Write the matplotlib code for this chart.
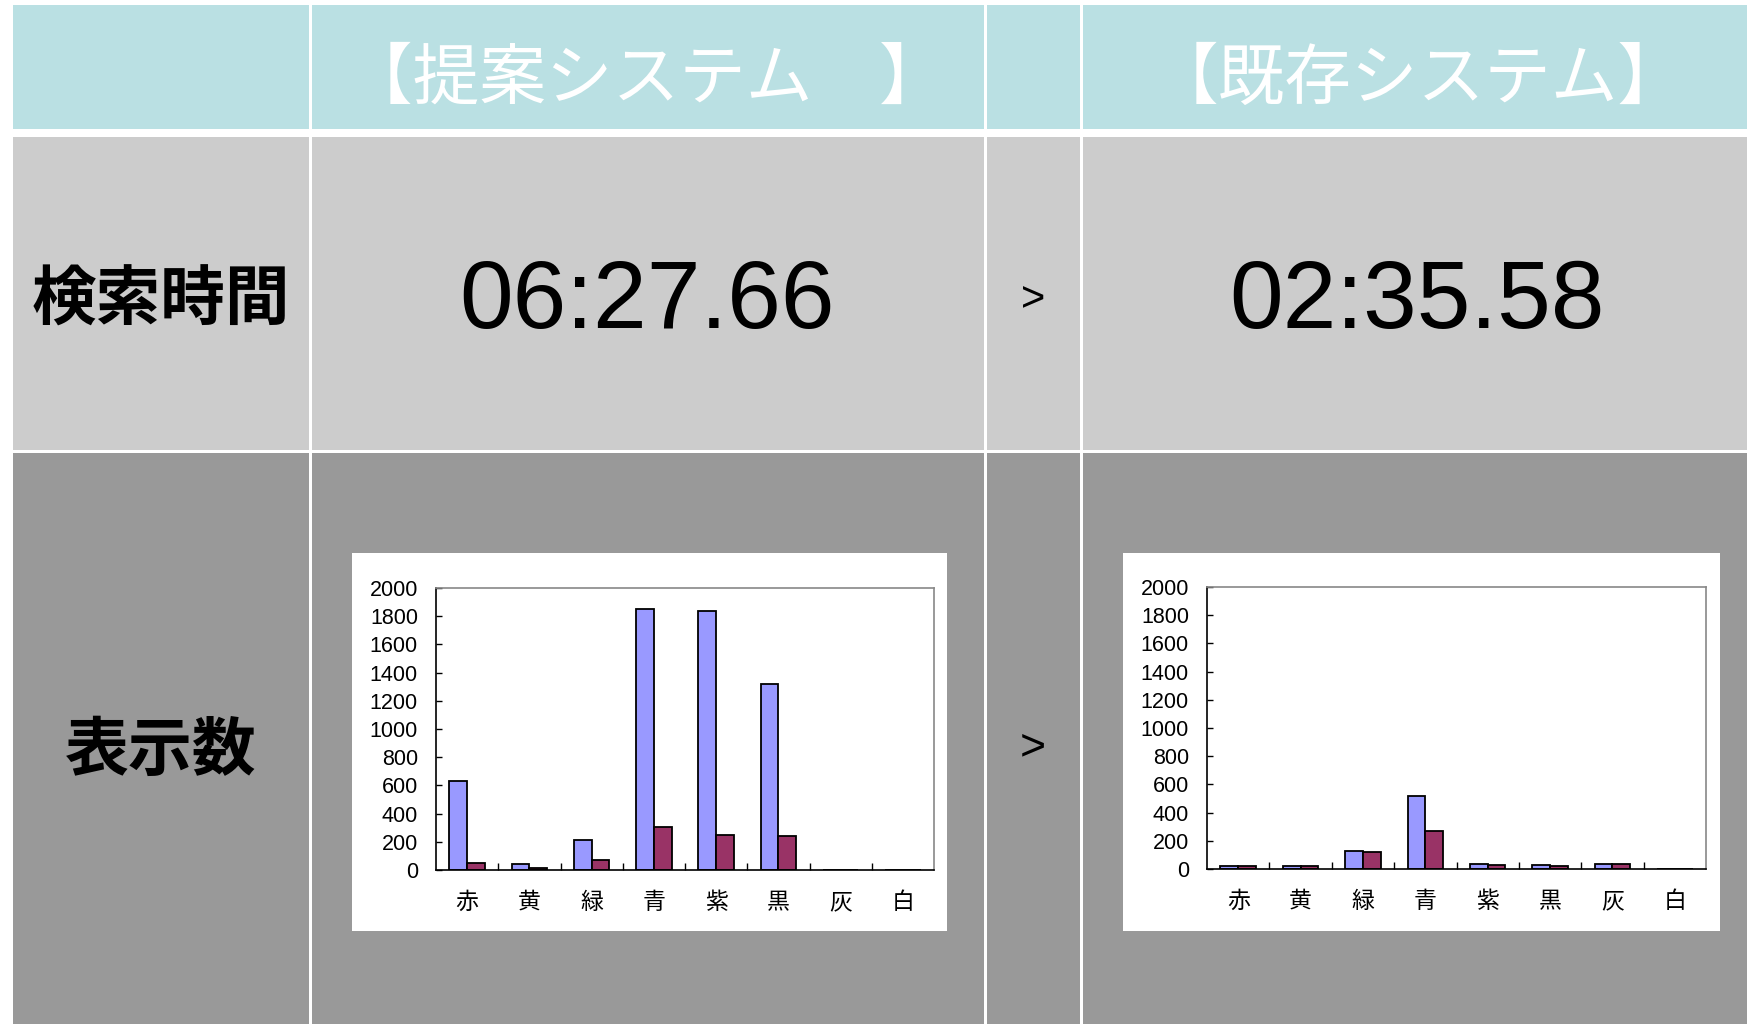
import matplotlib.pyplot as plt
from matplotlib.patches import Rectangle

plt.rcParams['font.family'] = ['Noto Sans CJK JP', 'DejaVu Sans']

# categories and counts per colour
colour_names = ['赤', '黄', '緑', '青', '紫', '黒', '灰', '白']
proposed_blue = [630, 42, 212, 1852, 1834, 1322, 0, 0]
proposed_red = [52, 17, 70, 306, 250, 242, 0, 0]
existing_blue = [24, 24, 130, 516, 34, 26, 36, 0]
existing_red = [24, 24, 122, 266, 27, 23, 36, 0]

system_titles = ['【提案システム　】', '【既存システム】']
row_titles = ['検索時間', '表示数']
search_times = ['06:27.66', '02:35.58']
y_ticks = list(range(0, 2001, 200))

W, H = 1747, 1024
HEAD_C = '#bae0e3'
ROW2_C = '#cccccc'
ROW3_C = '#999999'
BLUE = '#9999ff'
PLUM = '#993366'

fig = plt.figure(figsize=(W / 100, H / 100), dpi=100)
fig.patch.set_facecolor('white')

# full-figure axes in pixel coordinates for the table layout
bg = fig.add_axes([0, 0, 1, 1])
bg.set_xlim(0, W)
bg.set_ylim(H, 0)
bg.axis('off')

cols = [(13, 309), (312, 984), (987, 1080), (1083, W)]
rows = [(5, 129, HEAD_C), (137, 450, ROW2_C), (453, H, ROW3_C)]
for y0, y1, c in rows:
    for x0, x1 in cols:
        bg.add_patch(Rectangle((x0, y0), x1 - x0, y1 - y0, facecolor=c, edgecolor='none'))

# header
bg.text(646, 80, system_titles[0], color='white', fontsize=48, ha='center', va='center')
bg.text(1418, 80, system_titles[1], color='white', fontsize=48, ha='center', va='center')

# row titles
bg.text(161, 301, row_titles[0], fontsize=46.5, fontweight='bold', ha='center', va='center')
bg.text(161, 751, row_titles[1], fontsize=46, fontweight='bold', ha='center', va='center')

# search times
for x, t in zip([647, 1417], search_times):
    bg.text(x, 303, t, fontsize=69.5, family='Liberation Sans', ha='center', va='center')
bg.text(1033, 300, '>', fontsize=30, family='Liberation Sans', ha='center', va='center')
bg.text(1033, 748, '>', fontsize=32, family='Liberation Sans', ha='center', va='center')

# white chart boxes
boxes = [(352, 553, 947, 931), (1123, 553, 1720, 931)]
for x0, y0, x1, y1 in boxes:
    bg.add_patch(Rectangle((x0, y0), x1 - x0, y1 - y0, facecolor='white', edgecolor='none'))


def bar_chart(rect, blue, red):
    x0, y0, x1, y1 = rect
    ax = fig.add_axes([x0 / W, 1 - y1 / H, (x1 - x0) / W, (y1 - y0) / H])
    ax.set_facecolor('white')
    idx = range(len(colour_names))
    bw = 0.285
    ax.bar([i - bw / 2 for i in idx], blue, width=bw, color=BLUE,
           edgecolor='black', linewidth=1.3)
    ax.bar([i + bw / 2 for i in idx], red, width=bw, color=PLUM,
           edgecolor='black', linewidth=1.3)
    ax.set_xlim(-0.5, len(colour_names) - 0.5)
    ax.set_ylim(0, 2000)
    ax.set_yticks(y_ticks)
    ax.set_yticklabels([str(v) for v in y_ticks], family='Liberation Sans', fontsize=15.5)
    ax.set_xticks(list(idx))
    ax.set_xticklabels(colour_names, fontsize=16.5)
    ax.set_xticks([i + 0.5 for i in range(len(colour_names) - 1)], minor=True)
    ax.tick_params(axis='x', which='major', length=0, pad=15)
    ax.tick_params(axis='x', which='minor', direction='in', length=5, width=1)
    ax.tick_params(axis='y', direction='in', length=4, width=1, pad=13)
    for s in ['left', 'bottom']:
        ax.spines[s].set_color('black')
        ax.spines[s].set_linewidth(1.2)
    for s in ['top', 'right']:
        ax.spines[s].set_color('#888888')
        ax.spines[s].set_linewidth(1.2)
    return ax


bar_chart((436, 588, 934, 870), proposed_blue, proposed_red)
bar_chart((1207, 587, 1706, 869), existing_blue, existing_red)

fig.savefig('out.png', dpi=100, facecolor='white')
